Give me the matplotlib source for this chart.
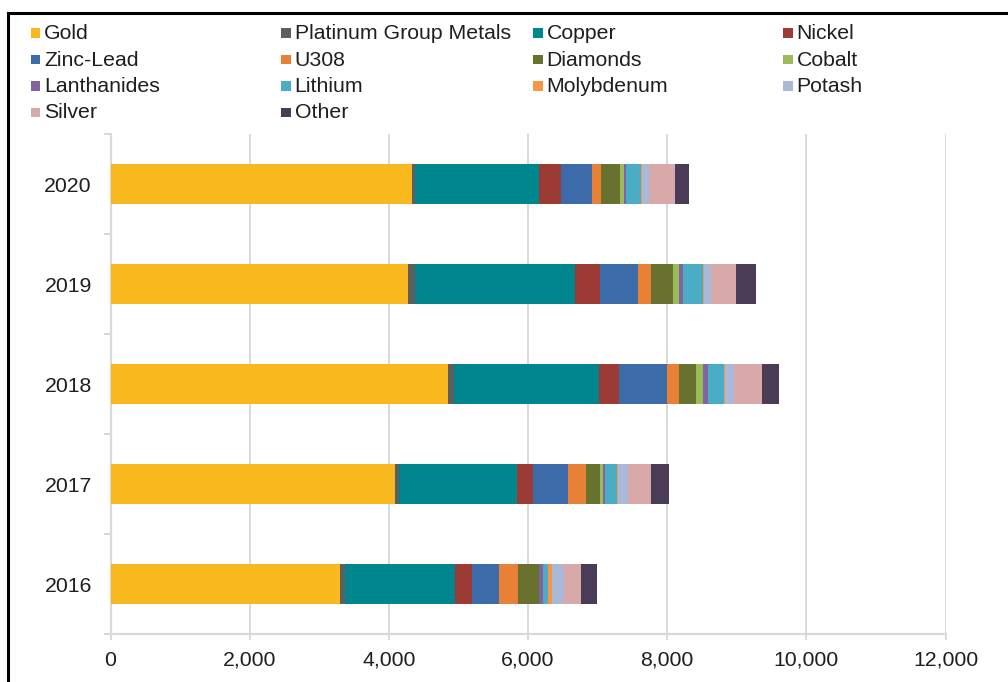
import matplotlib
matplotlib.use("Agg")
import matplotlib.pyplot as plt
from matplotlib.lines import Line2D
from matplotlib.patches import Rectangle
import numpy as np

plt.rcParams['font.family'] = ['Liberation Sans', 'DejaVu Sans']

# Exploration spend by commodity (A$ million), years bottom to top
years = ['2016', '2017', '2018', '2019', '2020']

gold = [3298, 4093, 4848, 4274, 4331]
platinum_group = [72, 57, 86, 96, 49]
copper = [1584, 1688, 2081, 2311, 1774]
nickel = [239, 239, 292, 354, 326]
zinc_lead = [388, 498, 684, 550, 440]
u308 = [277, 258, 182, 182, 129]
diamonds = [296, 202, 239, 310, 277]
cobalt = [8, 37, 106, 96, 48]
lanthanides = [48, 39, 62, 57, 38]
lithium = [77, 162, 239, 278, 211]
molybdenum = [52, 20, 19, 19, 19]
potash = [172, 148, 125, 105, 90]
silver = [249, 326, 406, 364, 384]
other = [225, 253, 239, 278, 201]

series_names = ['Gold', 'Platinum Group Metals', 'Copper', 'Nickel',
                'Zinc-Lead', 'U308', 'Diamonds', 'Cobalt',
                'Lanthanides', 'Lithium', 'Molybdenum', 'Potash',
                'Silver', 'Other']
series_values = [gold, platinum_group, copper, nickel, zinc_lead, u308,
                 diamonds, cobalt, lanthanides, lithium, molybdenum,
                 potash, silver, other]
series_colors = ['#FAB81F', '#5B5F60', '#00868E', '#9C3A35',
                 '#3C6BAA', '#E88136', '#68722E', '#9BBB59',
                 '#8064A2', '#4BACC6', '#F79646', '#AAB9D8',
                 '#D9A9A9', '#4A3C56']

x_ticks = [0, 2000, 4000, 6000, 8000, 10000, 12000]

W, H = 1008, 682
FS = 15.3
fig = plt.figure(figsize=(W / 100, H / 100), dpi=100)
fig.patch.set_facecolor('white')

ax = fig.add_axes([110.5 / W, 1 - 634 / H, (945.5 - 110.5) / W, 500 / H])

ypos = np.arange(len(years))
left = np.zeros(len(years))
for name, vals, col in zip(series_names, series_values, series_colors):
    vals = np.asarray(vals, dtype=float)
    ax.barh(ypos, vals, left=left, height=0.4, color=col, label=name,
            edgecolor='none', zorder=3)
    left += vals

grid_col = '#D9D9D9'
ax.set_xlim(0, 12000)
ax.set_ylim(-0.5, len(years) - 0.5)
ax.set_xticks(x_ticks)
ax.set_xticklabels([f'{v:,}' for v in x_ticks])
ax.set_yticks(ypos)
ax.set_yticklabels(years)
ax.set_yticks(np.arange(-0.5, len(years), 1.0), minor=True)

ax.xaxis.grid(True, color=grid_col, linewidth=1.4, zorder=0)
ax.set_axisbelow(True)
for s in ['top', 'right']:
    ax.spines[s].set_visible(False)
for s in ['left', 'bottom']:
    ax.spines[s].set_color(grid_col)
    ax.spines[s].set_linewidth(1.6)

ax.tick_params(axis='x', which='major', length=4.5, width=1.4, color=grid_col,
               pad=7.5, labelsize=FS, labelcolor='#1F1F1F')
ax.tick_params(axis='y', which='major', length=0, pad=13.5,
               labelsize=FS, labelcolor='#1F1F1F')
ax.tick_params(axis='y', which='minor', length=5, width=1.4, color=grid_col)

# Legend laid out as a 4-column grid above the plot
col_x = [35.5, 286, 538, 788]
row_base = [39, 65.5, 92, 118.5]
sq = 9.5
for i, (name, col) in enumerate(zip(series_names, series_colors)):
    c, r = i % 4, i // 4
    cx = col_x[c]
    base = row_base[r]
    fig.add_artist(Rectangle(((cx - sq / 2) / W, 1 - (base - 1.3) / H),
                             sq / W, sq / H, transform=fig.transFigure,
                             facecolor=col, edgecolor='none'))
    fig.text((cx + sq / 2 + 4) / W, 1 - base / H, name, fontsize=FS,
             color='#1F1F1F', ha='left', va='baseline')

# Outer black frame
fig.add_artist(Line2D([8 / W, 1.0], [1 - 13 / H, 1 - 13 / H],
                      transform=fig.transFigure, color='black', linewidth=2.2))
fig.add_artist(Line2D([8 / W, 8 / W], [1 - 13 / H, 0.0],
                      transform=fig.transFigure, color='black', linewidth=2.2))

fig.savefig('out.png', dpi=100, facecolor='white')
